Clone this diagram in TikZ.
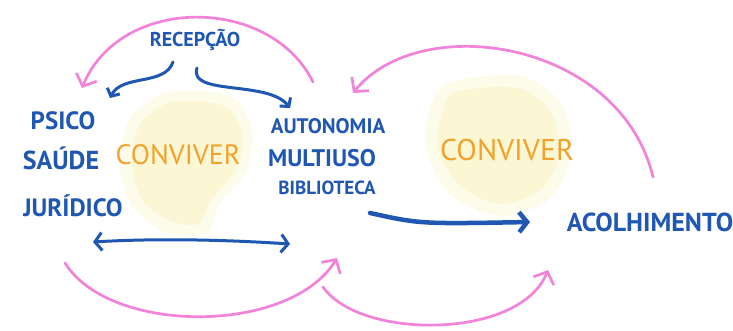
\documentclass[tikz,border=0pt]{standalone}
\usepackage{fontspec}
\setmainfont{PT Sans}
\usepackage{tikz}
\usetikzlibrary{calc,positioning,arrows.meta}
\definecolor{pen}{HTML}{1F57B3}
\definecolor{rosa}{HTML}{F283D9}
\definecolor{laranja}{HTML}{F2A22A}
\definecolor{gema}{HTML}{FBF6CC}
\tikzset{
	txt/.style={text=pen, font=\fontsize{#1}{#1}\selectfont\bfseries, inner sep=0pt},
	conv/.style={text=laranja, font=\fontsize{#1}{#1}\selectfont, inner sep=0pt},
	volta/.style={rosa, line width=2.7pt, line cap=round, -{Straight Barb[length=10pt,width=22pt]}},
	seta/.style={pen, line width=3pt, line cap=round, -{Straight Barb[length=6pt,width=14pt]}},
}

\begin{document}
\begin{tikzpicture}[x=1pt,y=-1pt]
		\useasboundingbox[fill=white] (0,0) rectangle (733,330);
		% manchas amarelas
		\fill[gema, opacity=0.4] plot[smooth cycle] coordinates {(168,92) (230,96) (252,130) (246,172) (220,202) (206,234) (165,232) (132,206) (120,165) (130,118)};
		\fill[gema, opacity=0.7] plot[smooth cycle] coordinates {(172,102) (224,106) (242,134) (236,170) (212,198) (198,224) (168,220) (142,200) (132,164) (140,124)};
		\fill[gema, opacity=0.4] plot[smooth cycle] coordinates {(450,82) (522,76) (564,108) (570,160) (548,200) (500,216) (452,196) (426,150) (430,108)};
		\fill[gema, opacity=0.7] plot[smooth cycle] coordinates {(456,92) (518,88) (552,114) (558,158) (540,190) (500,204) (460,186) (438,150) (442,114)};
		% textos
		\node[txt=20] (rec) at(195,40) {RECEPÇÃO};
		\node[txt=25] (psico) at(63,121) {PSICO};
		\node[txt=26] (saude) at(61,158) {SAÚDE};
		\node[txt=25] (jur) at(73,206) {JURÍDICO};
		\node[conv=28] (conv1) at(178,155) {CONVIVER};
		\node[txt=21] (auto) at(328,126) {AUTONOMIA};
		\node[txt=24] (multi) at(322,158) {MULTIUSO};
		\node[txt=19] (bib) at(327,188) {BIBLIOTECA};
		\node[conv=30] (conv2) at(507,150) {CONVIVER};
		\node[txt=26] (acol) at(650,222) {ACOLHIMENTO};
		% pontas
		\coordinate (r1) at(173,62);
		\coordinate (r2) at(197,68);
		\coordinate (e1) at(110,98);
		\coordinate (e2) at(290,108);
		\coordinate (d1) at(93,242);
		\coordinate (d2) at(290,244);
		\coordinate (b1) at(370,213);
		\coordinate (b2) at(530,222);
		\coordinate (pa) at(313,82);
		\coordinate (pb) at(82,88);
		\coordinate (pc) at(653,177);
		\coordinate (pd) at(353,93);
		\coordinate (pe) at(65,263);
		\coordinate (pf) at(337,258);
		\coordinate (pg) at(323,287);
		\coordinate (ph) at(548,270);
		% setas azuis
		\draw[seta] (r1) .. controls (165,86) and (122,74) .. (e1);
		\draw[seta] (r2) .. controls (188,96) and (268,80) .. (e2);
		\draw[seta, {Straight Barb[length=7pt,width=18pt]}-{Straight Barb[length=7pt,width=18pt]}] (d1) .. controls (160,238) and (230,240) .. (d2);
		\draw[pen, line width=4.5pt, line cap=round, -{Straight Barb[length=8pt,width=20pt]}] (b1) .. controls (420,224) .. (b2);
		% voltas rosas
		\draw[volta] (pa) .. controls (270,-5) and (120,-5) .. (pb);
		\draw[volta] (pc) .. controls (620,40) and (420,10) .. (pd);
		\draw[volta] (pe) .. controls (110,335) and (290,335) .. (pf);
		\draw[volta] (pg) .. controls (360,340) and (520,340) .. (ph);
	\end{tikzpicture}
\end{document}
